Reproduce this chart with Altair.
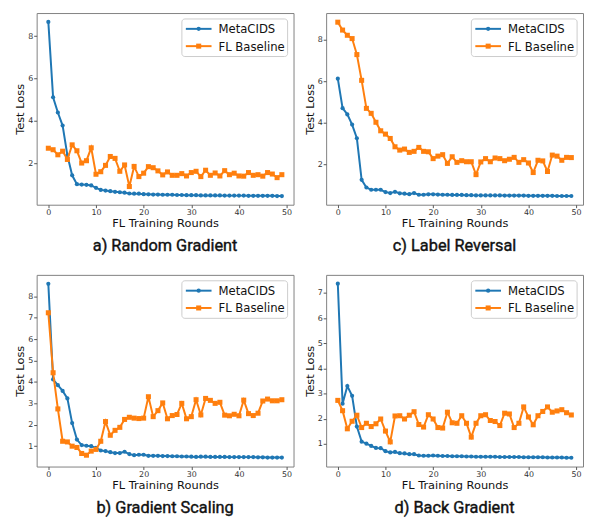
import altair as alt
import pandas as pd

BLUE = "#1f77b4"
ORANGE = "#ff7f0e"
SERIES = ["MetaCIDS", "FL Baseline"]

rounds = list(range(50))

meta_a = [8.67, 5.11, 4.39, 3.77, 2.36, 1.42, 1.00, 0.98, 0.97, 0.94, 0.83, 0.73, 0.70, 0.67, 0.64, 0.62, 0.60, 0.56, 0.55, 0.55,
          0.53, 0.52, 0.51, 0.51, 0.50, 0.50, 0.50, 0.49, 0.49, 0.48, 0.48, 0.48, 0.47, 0.47, 0.47, 0.47, 0.47, 0.46, 0.46, 0.46,
          0.46, 0.46, 0.45, 0.45, 0.45, 0.45, 0.45, 0.45, 0.44, 0.44]
fl_a = [2.70, 2.63, 2.39, 2.56, 2.17, 2.86, 2.58, 2.00, 2.11, 2.72, 1.47, 1.59, 1.89, 2.31, 2.22, 1.61, 1.91, 0.89, 1.84, 1.36,
        1.52, 1.83, 1.78, 1.63, 1.44, 1.58, 1.42, 1.42, 1.50, 1.39, 1.55, 1.61, 1.36, 1.66, 1.42, 1.53, 1.39, 1.64, 1.45, 1.52,
        1.39, 1.38, 1.55, 1.42, 1.45, 1.38, 1.55, 1.48, 1.31, 1.45]

meta_c = [6.12, 4.70, 4.40, 3.91, 3.25, 1.25, 0.88, 0.77, 0.77, 0.77, 0.66, 0.61, 0.67, 0.60, 0.58, 0.56, 0.61, 0.53, 0.53, 0.55,
          0.55, 0.54, 0.53, 0.53, 0.52, 0.52, 0.52, 0.51, 0.51, 0.50, 0.50, 0.50, 0.50, 0.50, 0.50, 0.49, 0.49, 0.49, 0.49, 0.49,
          0.48, 0.48, 0.48, 0.48, 0.48, 0.48, 0.47, 0.47, 0.47, 0.47]
fl_c = [8.84, 8.46, 8.21, 8.05, 7.28, 6.04, 4.69, 4.45, 4.02, 3.61, 3.45, 3.24, 2.84, 2.68, 2.73, 2.57, 2.62, 2.81, 2.62, 2.60,
        2.27, 2.39, 2.46, 2.04, 2.36, 2.09, 2.17, 2.12, 2.12, 1.50, 2.11, 2.27, 2.12, 2.30, 2.27, 2.17, 2.24, 2.33, 2.09, 2.22,
        2.06, 1.60, 2.19, 2.16, 1.65, 2.44, 2.39, 2.19, 2.33, 2.32]

meta_b = [8.58, 4.12, 3.85, 3.58, 3.23, 2.08, 1.31, 1.05, 1.02, 1.00, 0.92, 0.80, 0.77, 0.72, 0.68, 0.68, 0.74, 0.63, 0.58, 0.60,
          0.60, 0.55, 0.55, 0.55, 0.54, 0.54, 0.53, 0.53, 0.52, 0.52, 0.51, 0.50, 0.51, 0.51, 0.50, 0.50, 0.50, 0.50, 0.49, 0.49,
          0.49, 0.49, 0.49, 0.49, 0.48, 0.48, 0.47, 0.47, 0.47, 0.47]
fl_b = [7.23, 4.43, 2.74, 1.23, 1.20, 1.00, 0.94, 0.66, 0.58, 0.77, 0.85, 1.23, 2.15, 1.51, 1.74, 1.88, 2.25, 2.35, 2.31, 2.29,
        2.31, 3.31, 2.38, 2.66, 3.02, 2.28, 2.43, 2.48, 3.00, 2.28, 2.38, 3.17, 2.46, 3.23, 3.14, 3.00, 3.05, 2.45, 2.42, 2.49,
        2.42, 3.15, 2.52, 2.43, 2.54, 3.11, 3.20, 3.12, 3.12, 3.17]

meta_d = [7.37, 2.60, 3.30, 2.91, 1.69, 1.09, 1.01, 0.92, 0.84, 0.83, 0.71, 0.66, 0.68, 0.63, 0.62, 0.59, 0.59, 0.54, 0.53, 0.53,
          0.54, 0.53, 0.52, 0.52, 0.51, 0.51, 0.51, 0.50, 0.50, 0.49, 0.49, 0.49, 0.49, 0.49, 0.48, 0.48, 0.48, 0.48, 0.48, 0.47,
          0.47, 0.47, 0.47, 0.47, 0.46, 0.46, 0.46, 0.46, 0.45, 0.45]
fl_d = [2.73, 2.32, 1.60, 1.90, 2.14, 1.65, 1.82, 1.69, 1.80, 1.99, 1.51, 1.08, 2.11, 2.12, 1.99, 2.14, 2.28, 1.77, 1.67, 2.16,
        1.99, 1.65, 1.63, 2.26, 1.84, 1.82, 2.12, 1.82, 1.27, 1.82, 2.12, 2.16, 1.93, 1.89, 1.73, 2.22, 2.19, 1.65, 1.82, 2.47,
        2.07, 1.76, 2.12, 2.29, 2.47, 2.26, 2.31, 2.36, 2.24, 2.15]

x_ticks = [0, 10, 20, 30, 40, 50]
captions = ["a) Random Gradient", "c) Label Reversal", "b) Gradient Scaling", "d) Back Gradient"]
y_domains = [[0.03, 9.09], [0.05, 9.28], [0.05, 9.0], [0.10, 7.72]]
y_ticks = [[2, 4, 6, 8], [2, 4, 6, 8], [1, 2, 3, 4, 5, 6, 7, 8], [1, 2, 3, 4, 5, 6, 7]]

W, H = 260, 194
TICK_FONT = "DejaVu Sans"


def panel(meta, fl, ydom, yt, caption):
    df = pd.DataFrame({
        "round": rounds + rounds,
        "loss": meta + fl,
        "series": [SERIES[0]] * len(meta) + [SERIES[1]] * len(fl),
    })
    x = alt.X("round:Q", scale=alt.Scale(domain=[-2.45, 51.45], nice=False, zero=False),
              axis=alt.Axis(values=x_ticks, title="FL Training Rounds"))
    y = alt.Y("loss:Q", scale=alt.Scale(domain=ydom, nice=False, zero=False),
              axis=alt.Axis(values=yt, title="Test Loss"))
    base = alt.Chart(df)
    layers = []
    for name, col, shape, size in [(SERIES[0], BLUE, "circle", 18), (SERIES[1], ORANGE, "square", 26)]:
        sub = base.transform_filter(alt.datum.series == name)
        layers.append(sub.mark_line(color=col, strokeWidth=2).encode(x=x, y=y))
        layers.append(sub.mark_point(color=col, filled=True, opacity=1, shape=shape, size=size).encode(x=x, y=y))

    # legend (upper right, inside the plot)
    one = pd.DataFrame({"k": [0]})
    layers.append(alt.Chart(one).mark_rect(fill="white", fillOpacity=0.8, stroke="#cccccc", strokeWidth=1,
                                           cornerRadius=3).encode(
        x=alt.value(W - 113), x2=alt.value(W - 6), y=alt.value(6), y2=alt.value(44)))
    for i, (name, col, shape, size) in enumerate([(SERIES[0], BLUE, "circle", 18), (SERIES[1], ORANGE, "square", 26)]):
        yy = 16 + i * 17.5
        ldf = pd.DataFrame({"label": [name]})
        layers.append(alt.Chart(ldf).mark_rule(color=col, strokeWidth=2).encode(
            x=alt.value(W - 109), x2=alt.value(W - 83), y=alt.value(yy)))
        layers.append(alt.Chart(ldf).mark_point(color=col, filled=True, opacity=1, shape=shape, size=size).encode(
            x=alt.value(W - 96), y=alt.value(yy)))
        layers.append(alt.Chart(ldf).mark_text(align="left", baseline="middle", font=TICK_FONT, fontSize=11.8,
                                               color="#111111").encode(
            text="label:N", x=alt.value(W - 76), y=alt.value(yy + 0.5)))

    cdf = pd.DataFrame({"caption": [caption]})
    layers.append(alt.Chart(cdf).mark_text(align="center", baseline="alphabetic", font="Roboto", fontWeight="normal",
                                           fontSize=16.5, color="#111111", stroke="#111111",
                                           strokeWidth=0.4).encode(
        text="caption:N", x=alt.value(W / 2), y=alt.value(241)))
    return alt.layer(*layers).properties(width=W, height=H)


panels = [
    panel(meta_a, fl_a, y_domains[0], y_ticks[0], captions[0]),
    panel(meta_c, fl_c, y_domains[1], y_ticks[1], captions[1]),
    panel(meta_b, fl_b, y_domains[2], y_ticks[2], captions[2]),
    panel(meta_d, fl_d, y_domains[3], y_ticks[3], captions[3]),
]

chart = alt.concat(*panels, columns=2, spacing={"row": 71, "column": 33}, bounds="flush").properties(
    padding={"left": 6, "top": 1, "right": 0, "bottom": 0}
).configure_view(
    stroke="#808080", strokeWidth=1
).configure_axis(
    domain=False, grid=False, tickSize=3, tickColor="#555555", tickWidth=1,
    labelFont=TICK_FONT, labelFontSize=8, labelColor="#333333", labelPadding=1,
    titleFont=TICK_FONT, titleFontSize=11.5, titleFontWeight="normal", titleColor="#111111",
).configure_axisX(titlePadding=1).configure_axisY(titlePadding=2)

chart.save("out.html", embed_options={"renderer": "svg", "actions": False})
